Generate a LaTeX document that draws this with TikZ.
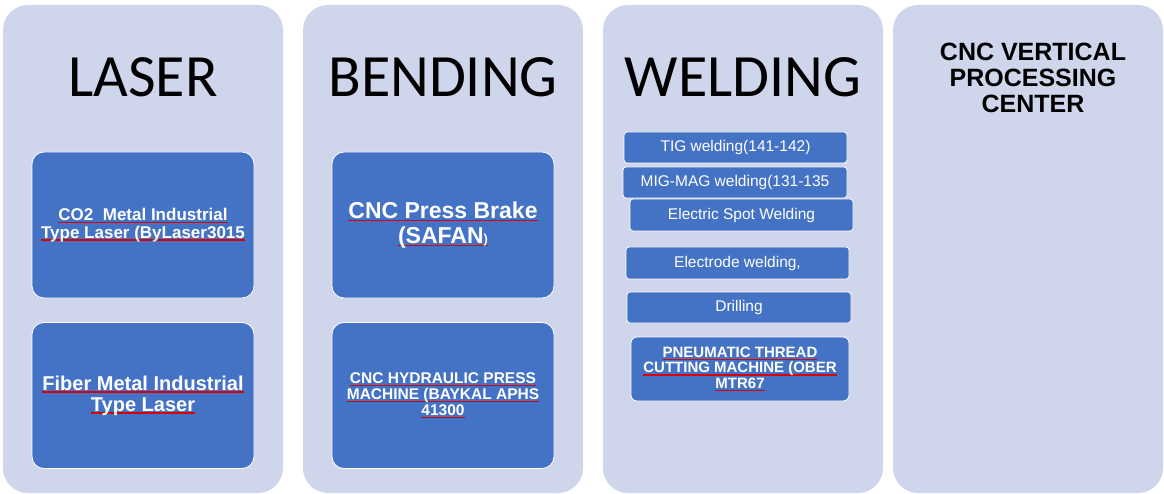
\documentclass[tikz,border=0pt]{standalone}
\usepackage{fontspec}
\setmainfont{Liberation Sans}
\newfontfamily\titlefont{Carlito}
\definecolor{panelfill}{HTML}{CFD5EA}
\definecolor{itemfill}{HTML}{4472C4}
\newsavebox\ulbox
\newcommand\redul[1]{\sbox\ulbox{#1}\rlap{\color{red!85!black}\rule[-2.6pt]{\wd\ulbox}{1.4pt}}\usebox\ulbox}

\begin{document}
\begin{tikzpicture}[x=1pt,y=-1pt,
panel/.style={fill=panelfill,rounded corners=25pt,minimum width=280pt,minimum height=488pt,inner sep=0pt},
heading/.style={inner sep=0pt,font=\titlefont\fontsize{60}{60}\selectfont},
item/.style={fill=itemfill,draw=white,line width=0.8pt,rounded corners=12pt,text=white,align=center,
  minimum width=222pt,minimum height=146pt,inner sep=0pt},
weld/.style={item,rounded corners=3pt,font=\fontsize{15.5}{16}\selectfont,minimum width=223pt,minimum height=31pt}]
\useasboundingbox (0,0) rectangle (1164,494);
% four columns
\node[panel] (laser) at (143,249) {};
\node[panel] (bending) at (443,249) {};
\node[panel] (welding) at (743,249) {};
\node[panel,minimum width=270pt] (cnc) at (1028,249) {};

\node[heading] (laserT) at (143,77) {LASER};
\node[heading] (bendingT) at (443,77) {BENDING};
\node[heading] (weldingT) at (743,77) {WELDING};
\node[inner sep=0pt,align=center,font=\bfseries\fontsize{25}{26}\selectfont] (cncT) at (1033,78)
  {CNC VERTICAL\\PROCESSING\\CENTER};

\node[item,font=\bfseries\fontsize{17}{17.5}\selectfont] (co2) at (143,225)
  {\redul{CO2\ \ Metal Industrial}\\\redul{Type Laser (ByLaser3015}};
\node[item,font=\bfseries\fontsize{20}{21}\selectfont] (fiber) at (143,395.5)
  {\redul{Fiber Metal Industrial}\\\redul{Type Laser}};

\node[item,font=\bfseries\fontsize{23}{25}\selectfont] (brake) at (443,225)
  {\redul{CNC Press Brake}\\\redul{(SAFAN{\fontsize{13}{13}\selectfont)}}};
\node[item,font=\bfseries\fontsize{15.5}{16}\selectfont] (hydraulic) at (443,395.5)
  {\redul{CNC HYDRAULIC PRESS}\\\redul{MACHINE (BAYKAL APHS}\\\redul{41300}};

\node[weld] (tig) at (735.5,147.5) {TIG welding(141-142)};
\node[weld,minimum width=224pt] (mig) at (735,182.5) {MIG-MAG welding(131-135};
\node[weld,minimum height=32pt] (spot) at (741.5,215) {Electric Spot Welding};
\node[weld,minimum height=32pt] (electrode) at (737.5,263) {Electrode welding,};
\node[weld,minimum width=224pt] (drilling) at (739,307.5) {Drilling};
\node[weld,rounded corners=6pt,minimum width=218pt,minimum height=64pt,font=\bfseries\fontsize{15}{15.5}\selectfont]
  (thread) at (740,369) {\redul{PNEUMATIC THREAD}\\\redul{CUTTING MACHINE (OBER}\\\redul{MTR67}};
\end{tikzpicture}
\end{document}
